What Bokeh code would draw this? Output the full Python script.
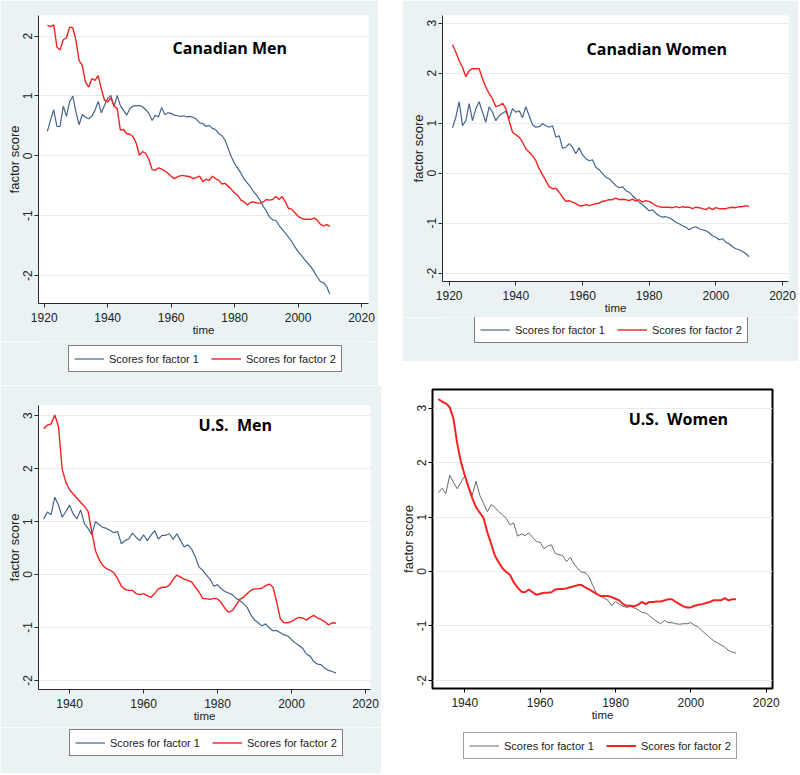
from bokeh.plotting import figure
from bokeh.models import Range1d, FixedTicker, Legend, LegendItem, Label
from bokeh.layouts import row, column
from bokeh.embed import file_html
from bokeh.resources import INLINE

# ---------------- data ----------------
years_ca = list(range(1921, 2011))
years_us = list(range(1933, 2013))

ca_men_f1 = [
    0.41, 0.60, 0.77, 0.49, 0.49, 0.83, 0.66, 0.90, 1.00, 0.73,
    0.52, 0.69, 0.65, 0.62, 0.66, 0.76, 0.91, 0.72, 0.84, 0.96,
    1.01, 0.82, 1.01, 0.84, 0.76, 0.68, 0.79, 0.83, 0.84, 0.84,
    0.82, 0.77, 0.71, 0.59, 0.68, 0.65, 0.81, 0.69, 0.72, 0.71,
    0.68, 0.67, 0.66, 0.67, 0.65, 0.66, 0.64, 0.61, 0.55, 0.54,
    0.49, 0.51, 0.46, 0.44, 0.37, 0.34, 0.26, 0.12, -0.02, -0.13,
    -0.21, -0.29, -0.39, -0.45, -0.52, -0.60, -0.66, -0.74, -0.84, -0.92,
    -1.02, -1.07, -1.08, -1.16, -1.23, -1.29, -1.36, -1.43, -1.52, -1.60,
    -1.66, -1.73, -1.79, -1.85, -1.93, -2.02, -2.10, -2.12, -2.18, -2.31]
ca_men_f2 = [
    2.18, 2.16, 2.19, 1.82, 1.77, 1.94, 1.97, 2.15, 2.14, 1.93,
    1.59, 1.51, 1.23, 1.15, 1.29, 1.26, 1.34, 1.12, 0.93, 0.90,
    0.97, 0.83, 0.79, 0.43, 0.44, 0.37, 0.36, 0.32, 0.21, 0.01,
    0.07, 0.04, -0.06, -0.23, -0.24, -0.20, -0.22, -0.25, -0.29, -0.34,
    -0.38, -0.35, -0.33, -0.33, -0.34, -0.35, -0.38, -0.36, -0.34, -0.43,
    -0.39, -0.41, -0.34, -0.38, -0.41, -0.47, -0.46, -0.51, -0.56, -0.62,
    -0.66, -0.74, -0.77, -0.82, -0.78, -0.77, -0.79, -0.79, -0.77, -0.73,
    -0.74, -0.73, -0.68, -0.73, -0.68, -0.77, -0.88, -0.89, -0.95, -1.01,
    -1.04, -1.06, -1.06, -1.06, -1.04, -1.07, -1.14, -1.17, -1.15, -1.18]

ca_women_f1 = [
    0.91, 1.12, 1.43, 0.95, 1.05, 1.39, 1.05, 1.29, 1.43, 1.22,
    1.02, 1.33, 1.22, 1.05, 1.15, 1.20, 1.24, 1.09, 1.29, 1.22,
    1.25, 1.11, 1.33, 1.15, 0.97, 0.92, 0.93, 0.99, 0.95, 0.92,
    0.95, 0.72, 0.75, 0.50, 0.52, 0.59, 0.52, 0.39, 0.51, 0.37,
    0.29, 0.25, 0.27, 0.12, 0.07, -0.01, -0.08, -0.11, -0.18, -0.25,
    -0.29, -0.27, -0.35, -0.38, -0.45, -0.51, -0.58, -0.63, -0.69, -0.75,
    -0.73, -0.80, -0.85, -0.88, -0.87, -0.89, -0.93, -0.98, -1.01, -1.05,
    -1.08, -1.13, -1.09, -1.07, -1.11, -1.13, -1.15, -1.19, -1.25, -1.28,
    -1.33, -1.31, -1.38, -1.41, -1.47, -1.51, -1.53, -1.56, -1.61, -1.67]
ca_women_f2 = [
    2.57, 2.42, 2.25, 2.12, 1.93, 2.05, 2.09, 2.09, 2.09, 1.89,
    1.72, 1.59, 1.49, 1.33, 1.35, 1.40, 1.29, 1.05, 0.82, 0.77,
    0.72, 0.62, 0.49, 0.42, 0.35, 0.25, 0.09, -0.03, -0.15, -0.27,
    -0.31, -0.30, -0.38, -0.48, -0.56, -0.55, -0.58, -0.61, -0.65, -0.65,
    -0.63, -0.65, -0.63, -0.61, -0.60, -0.56, -0.55, -0.53, -0.53, -0.50,
    -0.53, -0.52, -0.53, -0.55, -0.52, -0.56, -0.53, -0.58, -0.55, -0.57,
    -0.60, -0.65, -0.67, -0.68, -0.68, -0.68, -0.69, -0.67, -0.69, -0.67,
    -0.68, -0.68, -0.71, -0.68, -0.69, -0.71, -0.73, -0.69, -0.73, -0.69,
    -0.71, -0.71, -0.71, -0.69, -0.68, -0.69, -0.67, -0.67, -0.65, -0.67]

us_men_f1 = [
    1.05, 1.18, 1.13, 1.46, 1.31, 1.08, 1.19, 1.31, 1.14, 1.05,
    1.22, 0.96, 0.87, 0.75, 1.00, 0.94, 0.89, 0.87, 0.83, 0.79,
    0.81, 0.58, 0.64, 0.67, 0.78, 0.70, 0.64, 0.75, 0.64, 0.74,
    0.83, 0.67, 0.74, 0.74, 0.77, 0.66, 0.77, 0.64, 0.52, 0.56,
    0.48, 0.33, 0.14, 0.08, -0.01, -0.09, -0.22, -0.19, -0.27, -0.32,
    -0.35, -0.38, -0.45, -0.49, -0.55, -0.62, -0.76, -0.86, -0.91, -0.97,
    -0.93, -1.01, -1.06, -1.06, -1.10, -1.14, -1.16, -1.23, -1.29, -1.34,
    -1.39, -1.50, -1.54, -1.64, -1.69, -1.70, -1.77, -1.81, -1.83, -1.86]
us_men_f2 = [
    2.75, 2.82, 2.84, 3.01, 2.80, 1.99, 1.74, 1.60, 1.52, 1.44,
    1.36, 1.29, 1.19, 0.80, 0.45, 0.28, 0.17, 0.11, 0.08, 0.03,
    -0.08, -0.22, -0.28, -0.30, -0.30, -0.36, -0.38, -0.36, -0.40, -0.43,
    -0.36, -0.27, -0.24, -0.24, -0.20, -0.09, -0.01, -0.05, -0.09, -0.11,
    -0.14, -0.24, -0.33, -0.45, -0.46, -0.47, -0.45, -0.46, -0.53, -0.64,
    -0.71, -0.68, -0.58, -0.47, -0.43, -0.36, -0.30, -0.27, -0.27, -0.26,
    -0.21, -0.18, -0.24, -0.52, -0.84, -0.91, -0.91, -0.89, -0.84, -0.81,
    -0.82, -0.86, -0.81, -0.77, -0.82, -0.85, -0.89, -0.95, -0.91, -0.92]

us_women_f1 = [
    1.45, 1.53, 1.43, 1.77, 1.64, 1.52, 1.64, 1.75, 1.55, 1.40,
    1.66, 1.40, 1.25, 1.10, 1.23, 1.18, 1.10, 1.04, 0.98, 0.86,
    0.89, 0.65, 0.69, 0.66, 0.71, 0.63, 0.55, 0.54, 0.42, 0.47,
    0.49, 0.33, 0.31, 0.29, 0.18, 0.26, 0.14, 0.05, -0.01, -0.02,
    -0.10, -0.26, -0.41, -0.45, -0.49, -0.53, -0.63, -0.55, -0.60, -0.64,
    -0.66, -0.64, -0.67, -0.70, -0.75, -0.76, -0.81, -0.87, -0.92, -0.96,
    -0.90, -0.94, -0.94, -0.96, -0.97, -0.96, -0.96, -0.94, -0.99, -1.02,
    -1.09, -1.15, -1.21, -1.27, -1.31, -1.35, -1.39, -1.45, -1.48, -1.50]
us_women_f2 = [
    3.17, 3.12, 3.09, 3.02, 2.81, 2.35, 2.01, 1.77, 1.55, 1.35,
    1.18, 1.08, 0.98, 0.72, 0.51, 0.29, 0.17, 0.06, -0.01, -0.06,
    -0.20, -0.29, -0.37, -0.38, -0.33, -0.38, -0.43, -0.41, -0.39, -0.39,
    -0.38, -0.33, -0.32, -0.32, -0.31, -0.29, -0.27, -0.25, -0.25, -0.29,
    -0.33, -0.37, -0.41, -0.45, -0.45, -0.45, -0.47, -0.50, -0.53, -0.60,
    -0.63, -0.63, -0.64, -0.61, -0.56, -0.60, -0.56, -0.56, -0.55, -0.55,
    -0.53, -0.51, -0.51, -0.56, -0.60, -0.64, -0.66, -0.66, -0.63, -0.61,
    -0.60, -0.58, -0.56, -0.53, -0.53, -0.53, -0.49, -0.53, -0.51, -0.51]

titles = ["Canadian Men", "Canadian Women", "U.S.\u00a0 Men", "U.S.\u00a0 Women"]
legend_labels = ["Scores for factor 1", "Scores for factor 2"]
x_ticks_ca = [1920, 1940, 1960, 1980, 2000, 2020]
x_ticks_us = [1940, 1960, 1980, 2000, 2020]
y_ticks_a = [-2, -1, 0, 1, 2]
y_ticks_b = [-2, -1, 0, 1, 2, 3]

BG = "#eaf2f3"
BLUE = "#44658a"
RED = "#f52222"
GRAY = "#6a6a6a"
SANS = "Liberation Sans"


def panel(years, f1, f2, title, xr, yr, xt, yt, title_xy, width, main_h,
          borders, leg_h, leg_xy, bg=BG, c1=BLUE, w1=1.2, w2=1.4,
          framed=False):
    bl, br, bt, bb = borders
    p = figure(width=width, height=main_h,
               x_range=Range1d(*xr), y_range=Range1d(*yr),
               output_backend="svg", toolbar_location=None,
               min_border_left=bl, min_border_right=br,
               min_border_top=bt, min_border_bottom=bb)
    p.border_fill_color = bg
    p.background_fill_color = "white"
    if framed:
        p.outline_line_color = "black"
        p.outline_line_width = 2
    else:
        p.outline_line_color = None
    p.xgrid.grid_line_color = None
    p.ygrid.grid_line_color = "#e4ecee"
    p.ygrid.grid_line_width = 1
    p.ygrid.ticker = FixedTicker(ticks=yt)
    p.xaxis.ticker = FixedTicker(ticks=xt)
    p.yaxis.ticker = FixedTicker(ticks=yt)
    p.yaxis.major_label_overrides = {t: str(t) for t in yt}
    axc = "black" if framed else "#2a2a2a"
    for ax in (p.xaxis[0], p.yaxis[0]):
        ax.axis_line_color = axc
        ax.major_tick_line_color = axc
        ax.minor_tick_line_color = None
        ax.major_tick_out = 4
        ax.major_tick_in = 0
        ax.major_label_text_color = "#222222"
        ax.axis_label_text_color = "#222222"
        ax.axis_label_text_font_style = "normal"
    p.xaxis.major_label_text_font = SANS
    p.xaxis.major_label_text_font_size = "12px"
    p.xaxis.major_label_standoff = 5
    p.xaxis.axis_label = "time"
    p.xaxis.axis_label_text_font = SANS
    p.xaxis.axis_label_text_font_size = "11.5px"
    p.xaxis.axis_label_standoff = -1
    p.yaxis.major_label_orientation = "vertical"
    p.yaxis.major_label_text_font = SANS
    p.yaxis.major_label_text_font_size = "12px"
    p.yaxis.major_label_standoff = 2
    p.yaxis.axis_label = "factor score"
    p.yaxis.axis_label_text_font = SANS
    p.yaxis.axis_label_text_font_size = "13px"
    p.yaxis.axis_label_standoff = -1

    p.line(years, f1, line_color=c1, line_width=w1)
    p.line(years, f2, line_color=RED, line_width=w2)

    p.add_layout(Label(x=title_xy[0], y=title_xy[1], text=title,
                       text_font="Open Sans", text_font_style="bold",
                       text_font_size="16px", text_color="black",
                       text_align="center", text_baseline="middle"))

    # legend strip below the plot: same series, drawn outside its (0,1)
    # ranges so only the legend shows
    lf = figure(width=width, height=leg_h, x_range=Range1d(0, 1),
                y_range=Range1d(0, 1), x_axis_type=None, y_axis_type=None,
                output_backend="svg", toolbar_location=None, min_border=0)
    lf.border_fill_color = bg
    lf.background_fill_color = bg
    lf.outline_line_color = None
    g1 = lf.line(years, f1, line_color=c1, line_width=w1)
    g2 = lf.line(years, f2, line_color=RED, line_width=w2)
    leg = Legend(items=[LegendItem(label=legend_labels[0], renderers=[g1]),
                        LegendItem(label=legend_labels[1], renderers=[g2])],
                 orientation="horizontal", location=leg_xy,
                 glyph_width=30, glyph_height=15, label_height=15,
                 label_standoff=5, spacing=12, padding=5, margin=0,
                 label_text_font=SANS, label_text_font_size="11px",
                 label_text_color="#222222",
                 border_line_color="#444444" if framed else "black",
                 border_line_width=1, background_fill_color="white",
                 background_fill_alpha=1.0)
    lf.add_layout(leg, "center")
    return column(p, lf, spacing=0)


c1_ = panel(years_ca, ca_men_f1, ca_men_f2, titles[0],
            (1918.2, 2022.2), (-2.467, 2.345), x_ticks_ca, y_ticks_a,
            (1978.5, 1.795), 378, 341, (38, 10, 15, 38), 44, (30, 13))
c2_ = panel(years_ca, ca_women_f1, ca_women_f2, titles[1],
            (1918.0, 2021.8), (-2.166, 3.154), x_ticks_ca, y_ticks_b,
            (1982.3, 2.49), 396, 317, (40, 10, 15, 36), 44, (32, 18))
c3_ = panel(years_us, us_men_f1, us_men_f2, titles[2],
            (1931.6, 2021.35), (-2.17, 3.19), x_ticks_us, y_ticks_b,
            (1984.8, 2.83), 381, 342, (38, 11, 20, 38), 46, (31, 17))
c4_ = panel(years_us, us_women_f1, us_women_f2, titles[3],
            (1931.44, 2021.67), (-2.15, 3.345), x_ticks_us, y_ticks_b,
            (1996.7, 2.81), 406, 341, (40, 26, 4, 38), 47, (31, 14),
            bg="white", c1=GRAY, w1=1.0, w2=2.0, framed=True)

layout = column(row(c1_, c2_, spacing=24), row(c3_, c4_, spacing=11),
                spacing=0)

open("out.html", "w").write(file_html(layout, INLINE))
